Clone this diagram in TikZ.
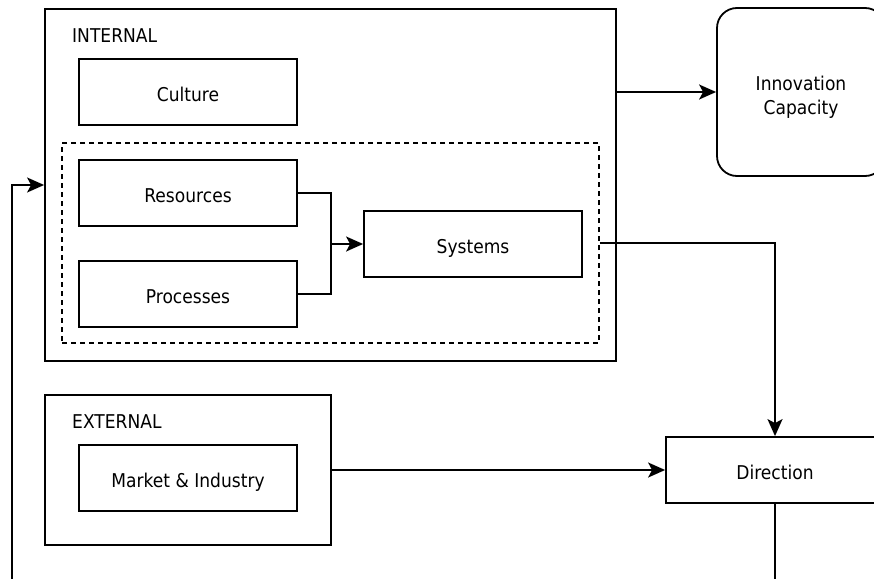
\documentclass[tikz,border=0pt]{standalone}
\usepackage{fontspec}
\setmainfont{DejaVu Sans}[FakeStretch=0.9]
\usetikzlibrary{
    arrows.meta,
    positioning,
    calc
}

\begin{document}
\begin{tikzpicture}[
        x=1pt, y=-1pt,
        every node/.style={font=\fontsize{19}{24}\selectfont},
        box/.style={rectangle, draw, line width=1.8pt, minimum width=218pt, minimum height=66pt, align=center, text height=19pt, text depth=0pt},
        groupbox/.style={rectangle, draw, line width=1.8pt},
        grouplabel/.style={anchor=base west, inner sep=0pt},
        arrow/.style={-{Stealth[length=17pt, width=15pt, inset=4pt]}, line width=1.8pt},
        link/.style={line width=1.8pt}
    ]
        \useasboundingbox (0,0) rectangle (874,578);
        \clip (0,0) rectangle (874,578);

        % internal group
        \node[groupbox, minimum width=571pt, minimum height=352pt] (internal) at (330.5,185) {};
        \node[grouplabel] (internal_lbl) at (72,43) {INTERNAL};
        \node[box] (culture) at (188,92) {Culture};
        \node[groupbox, dashed, dash pattern=on 5pt off 4pt, minimum width=537pt, minimum height=200pt] (core) at (330.5,243) {};
        \node[box] (resources) at (188,193) {Resources};
        \node[box] (processes) at (188,294) {Processes};
        \node[box] (systems) at (473,244) {Systems};

        % external group
        \node[groupbox, minimum width=286pt, minimum height=150pt] (external) at (188,470) {};
        \node[grouplabel] (external_lbl) at (72,428) {EXTERNAL};
        \node[box] (market) at (188,478) {Market \& Industry};

        % outcomes
        \node[box, rounded corners=20pt, minimum width=168pt, minimum height=168pt, text height=44pt] (innov) at (801,92) {Innovation\\Capacity};
        \node[box] (direction) at (775,470) {Direction};

        \coordinate (join) at (331,244);
        \coordinate (loop) at (12,620);

        \draw[link] (resources.east) -| (join);
        \draw[link] (processes.east) -| (join);
        \draw[arrow] (join) -- (systems.west);
        \draw[arrow] (internal.east |- innov.west) -- (innov.west);
        \draw[arrow] (core.east) -| (direction.north);
        \draw[arrow] (external.east) -- (direction.west);
        \draw[arrow] (direction.south) |- (loop) |- (internal.west);
    \end{tikzpicture}
\end{document}
